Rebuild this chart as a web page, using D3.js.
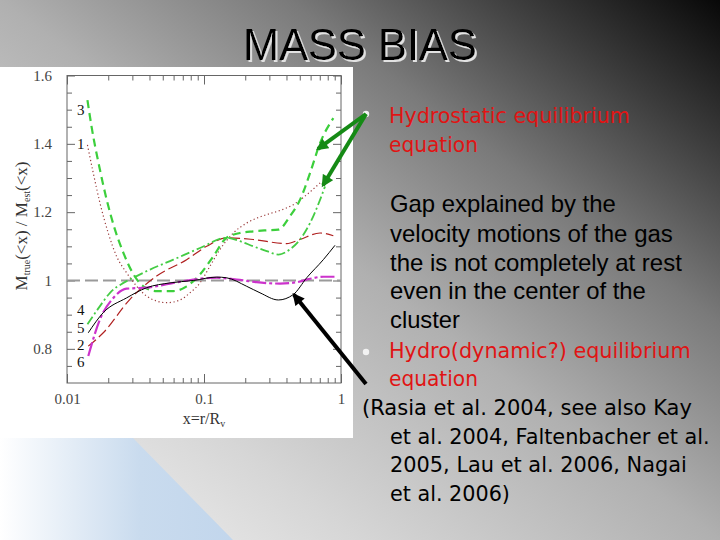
<!DOCTYPE html>
<html><head><meta charset="utf-8">
<script src="https://cdn.jsdelivr.net/npm/d3@7"></script>
<style>html,body{margin:0;padding:0;overflow:hidden;background:#999}</style>
</head><body><svg id="c" width="720" height="540"></svg>
<script>
// ---------- data ----------
const curveIds = ["1", "2", "3", "4", "5", "6"];
// curve 1 : brown dotted
const x1 = [0.0141,0.01556,0.0174,0.0200,0.0230,0.0273,0.0323,0.0382,0.0451,0.0534,0.0668,0.0790,0.0935,0.1106,0.1309,0.1637,0.2048,0.287,0.3586,0.4487,0.5616,0.7225];
const y1 = [1.397,1.314,1.227,1.139,1.071,1.022,0.983,0.954,0.940,0.935,0.943,0.964,0.993,1.042,1.091,1.139,1.168,1.193,1.205,1.222,1.251,1.290];
// curve 2 : dark red long dash
const x2 = [0.0143,0.0184,0.0288,0.0451,0.0747,0.1046,0.146,0.229,0.4013,0.502,0.703,0.879];
const y2 = [0.808,0.847,0.945,1.013,1.061,1.100,1.125,1.120,1.108,1.120,1.139,1.131];
// curve 3 : green dashed
const x3 = [0.0141,0.0151,0.0174,0.0195,0.0224,0.0258,0.0297,0.0361,0.0451,0.0597,0.0747,0.0935,0.117,0.146,0.183,0.229,0.287,0.349,0.424,0.502,0.594,0.703,0.879];
const y3 = [1.528,1.451,1.324,1.236,1.149,1.081,1.027,0.983,0.969,0.969,0.983,1.018,1.071,1.125,1.139,1.144,1.147,1.149,1.188,1.236,1.314,1.402,1.475];
// curve 4 : green dash-dot
const x4 = [0.0141,0.0174,0.0206,0.0258,0.0305,0.0404,0.0597,0.0935,0.146,0.183,0.229,0.287,0.349,0.424,0.502,0.594,0.703,0.764];
const y4 = [0.872,0.925,0.964,0.993,1.008,1.032,1.061,1.095,1.125,1.115,1.100,1.086,1.076,1.091,1.120,1.168,1.236,1.275];
// curve 5 : black solid
const x5 = [0.0143,0.0184,0.0272,0.0382,0.0565,0.0836,0.124,0.146,0.205,0.2563,0.349,0.449,0.562,0.743,0.904];
const y5 = [0.847,0.906,0.949,0.979,0.993,1.000,1.010,1.008,0.983,0.964,0.943,0.959,1.008,1.061,1.103];
// curve 6 : magenta long dash-dot
const x6 = [0.0143,0.0174,0.0218,0.0272,0.0382,0.0565,0.0836,0.124,0.1732,0.2424,0.3586,0.475,0.594,0.743,0.904];
const y6 = [0.779,0.886,0.949,0.976,0.979,0.991,1.003,1.008,1.003,0.995,0.991,0.995,1.005,1.011,1.011];
// curve number labels (left side): data y positions
const labelY = [1.40, 0.811, 1.499, 0.914, 0.861, 0.762];
const labelX = 0.0126;
const refValue = 1.0;
const xMajor = [0.01, 0.1, 1];
const xMajorLabels = ["0.01", "0.1", "1"];
const yMajor = [0.8, 1.0, 1.2, 1.4, 1.6];
const yMajorLabels = ["0.8", "1", "1.2", "1.4", "1.6"];
const title = "MASS BIAS";

// ---------- drawing ----------
const svg = d3.select("#c");
const defs = svg.append("defs");
const bg = defs.append("linearGradient").attr("id","bg").attr("x1",0).attr("y1",1).attr("x2",1).attr("y2",0);
[[0,"#f6f6f6"],[0.25,"#d6d6d6"],[0.5,"#b0b0b0"],[0.7,"#7a7a7a"],[0.86,"#3c3c3c"],[1,"#080808"]]
  .forEach(([o,c])=>bg.append("stop").attr("offset",o).attr("stop-color",c));
const blue = defs.append("linearGradient").attr("id","blue").attr("x1",0).attr("y1",0).attr("x2",1).attr("y2",0);
blue.append("stop").attr("offset",0).attr("stop-color","#ffffff");
blue.append("stop").attr("offset",0.6).attr("stop-color","#c9dbee");
blue.append("stop").attr("offset",1).attr("stop-color","#c2d6ec");
defs.append("filter").attr("id","sh").attr("x","-5%").attr("y","-10%").attr("width","110%").attr("height","130%")
  .append("feDropShadow").attr("dx",2).attr("dy",2).attr("stdDeviation",0.4)
  .attr("flood-color","#e2e2e2").attr("flood-opacity",1);

function marker(id, color){
  defs.append("marker").attr("id",id).attr("viewBox","0 0 10 10").attr("refX",8).attr("refY",5)
    .attr("markerWidth",13).attr("markerHeight",12).attr("markerUnits","userSpaceOnUse").attr("orient","auto")
    .append("path").attr("d","M0,0 L10,5 L0,10 Z").attr("fill",color);
}
marker("mg","#158a15"); marker("mk","#000");

svg.append("rect").attr("width",720).attr("height",540).attr("fill","url(#bg)");
svg.append("path").attr("d","M0,438 L133,438 L233,540 L0,540 Z").attr("fill","url(#blue)");

// helper: text scaled horizontally to a target width
function fitText(parent, str, tx, ty, width, size, family, fill, anchor){
  const gg = parent.append("g");
  const t = gg.append("text").attr("x",0).attr("y",0).attr("font-family",family)
    .attr("font-size",size).attr("fill",fill).text(str);
  const nat = t.node().getComputedTextLength();
  const sx = width / nat;
  const x0 = anchor === "middle" ? tx - width/2 : tx;
  gg.attr("transform",`translate(${x0},${ty}) scale(${sx},1)`);
  return t;
}

// title (shadow via filter)
fitText(svg, title, 360, 60, 234, 45, "Liberation Sans, Arial, sans-serif", "#000", "middle").attr("filter","url(#sh)");

// chart panel
svg.append("rect").attr("x",0).attr("y",67).attr("width",353).attr("height",371).attr("fill","#fff");

const L=67, R=341, T=75.5, B=383;
const x = d3.scaleLog().domain([0.01,1]).range([L,R]);
const y = d3.scaleLinear().domain([0.7,1.6]).range([B,T]);

const xMinor = [];
[0.01,0.1].forEach(d=>{for(let k=2;k<=9;k++) xMinor.push(d*k);});
const yMinor = d3.range(0.75,1.6,0.05).map(v=>+v.toFixed(2)).filter(v=>!yMajor.some(m=>Math.abs(m-v)<1e-6));

const g = svg.append("g");
const axColor = "#666";
function addAxis(axis, tr, vals, size, fmt, pad){
  const a = g.append("g").attr("transform",tr).attr("color",axColor)
    .call(axis.tickValues(vals).tickSize(size).tickPadding(pad||3).tickFormat(fmt||""));
  a.select(".domain").remove();
  a.selectAll("line").attr("stroke-width",1);
  return a;
}
// bottom
const bx = addAxis(d3.axisBottom(x), `translate(0,${B})`, xMajor, -9, (d,i)=>xMajorLabels[i], 10);
bx.selectAll("text").attr("font-family","Liberation Serif, serif").attr("font-size",15).attr("fill","#444");
addAxis(d3.axisBottom(x), `translate(0,${B})`, xMinor, -5);
// top
addAxis(d3.axisTop(x), `translate(0,${T})`, xMajor, -9);
addAxis(d3.axisTop(x), `translate(0,${T})`, xMinor, -5);
// left
const ly = addAxis(d3.axisLeft(y), `translate(${L},0)`, yMajor, -8, (d,i)=>yMajorLabels[i], 15);
ly.selectAll("text").attr("font-family","Liberation Serif, serif").attr("font-size",15).attr("fill","#444");
addAxis(d3.axisLeft(y), `translate(${L},0)`, yMinor, -5);
// right
addAxis(d3.axisRight(y), `translate(${R},0)`, yMajor, -8);
addAxis(d3.axisRight(y), `translate(${R},0)`, yMinor, -5);

g.append("rect").attr("x",L).attr("y",T).attr("width",R-L).attr("height",B-T)
  .attr("fill","none").attr("stroke","#666").attr("stroke-width",1);

// reference line
g.append("line").attr("x1",x(0.01)).attr("x2",x(1)).attr("y1",y(refValue)).attr("y2",y(refValue))
  .attr("stroke","#9a9a9a").attr("stroke-width",2).attr("stroke-dasharray","13,5");

const styles = {
  "1": {stroke:"#9a3a3a", w:1.2, dash:"1.2,2.6"},
  "2": {stroke:"#b02020", w:1.2, dash:"10,4"},
  "3": {stroke:"#3ccf3c", w:2.2, dash:"8,5"},
  "4": {stroke:"#44cc44", w:1.8, dash:"9,3,2,3"},
  "5": {stroke:"#000000", w:1, dash:null},
  "6": {stroke:"#cc33cc", w:2.2, dash:"14,3,3,3"}
};
const xsAll = [x1,x2,x3,x4,x5,x6], ysAll = [y1,y2,y3,y4,y5,y6];
const line = d3.line().x(d=>x(d[0])).y(d=>y(d[1])).curve(d3.curveMonotoneX);
const drawOrder = [1,0,3,2,5,4];
drawOrder.forEach(i=>{
  const id = curveIds[i], st = styles[id];
  const pts = xsAll[i].map((v,j)=>[v, ysAll[i][j]]);
  g.append("path").attr("d",line(pts)).attr("fill","none").attr("stroke",st.stroke)
    .attr("stroke-width",st.w).attr("stroke-dasharray",st.dash);
});
// curve labels
curveIds.forEach((id,i)=>{
  g.append("text").attr("x",x(labelX)).attr("y",y(labelY[i])).attr("dy","0.35em").attr("text-anchor","middle")
    .attr("font-family","Liberation Serif, serif").attr("font-size",15).attr("fill","#111").text(id);
});
// axis titles
const yl = g.append("text").attr("transform",`translate(27,${226}) rotate(-90)`).attr("text-anchor","middle")
  .attr("font-family","Liberation Serif, serif").attr("font-size",17).attr("fill","#333");
yl.append("tspan").text("M");
yl.append("tspan").attr("font-size",10).attr("dy",3).text("true");
yl.append("tspan").attr("dy",-3).text("(<x)  /  M");
yl.append("tspan").attr("font-size",10).attr("dy",3).text("est");
yl.append("tspan").attr("dy",-3).text("(<x)");
const xl = g.append("text").attr("x",(L+R)/2).attr("y",424).attr("text-anchor","middle")
  .attr("font-family","Liberation Serif, serif").attr("font-size",16).attr("fill","#333");
xl.append("tspan").text("x=r/R");
xl.append("tspan").attr("font-size",10).attr("dy",3).text("v");

// ---------- slide text ----------
const tah = "DejaVu Sans, Verdana, sans-serif", ari = "Liberation Sans, Arial, sans-serif";
const red = "#e01414";
const lines = [
  ["Hydrostatic equilibrium", 389, 123, 241, red, tah],
  ["equation", 389, 152, 89, red, tah],
  ["Gap explained by the", 390, 212, 226, "#000", ari],
  ["velocity motions of the gas", 390, 241.5, 283, "#000", ari],
  ["the is not completely at rest", 390, 270.5, 292, "#000", ari],
  ["even in the center of the", 390, 299, 256, "#000", ari],
  ["cluster", 390, 327.5, 70, "#000", ari],
  ["Hydro(dynamic?) equilibrium", 389, 358, 302, red, tah],
  ["equation", 389, 386, 89, red, tah],
  ["(Rasia et al. 2004, see also Kay", 362, 415, 330, "#000", tah],
  ["et al. 2004, Faltenbacher et al.", 390, 443.5, 320, "#000", tah],
  ["2005, Lau et al. 2006, Nagai", 390, 472, 297, "#000", tah],
  ["et al. 2006)", 390, 500.5, 120, "#000", tah]
];
lines.forEach(([t,lx,ly0,w,c,f])=>{
  fitText(svg, t, lx, ly0, w, f===tah?22:23, f, c, "start");
});
svg.append("circle").attr("cx",366).attr("cy",352).attr("r",3.2).attr("fill","#f2f2f2");
svg.append("circle").attr("cx",366).attr("cy",114).attr("r",3.2).attr("fill","#f2f2f2");

// arrows (tails on slide, tips at data positions)
const greenTips = [[0.679,1.385],[0.739,1.279]];
const blackTip = [0.454,0.958];
greenTips.forEach(([tx,ty])=>{
  svg.append("line").attr("x1",366).attr("y1",114).attr("x2",x(tx)).attr("y2",y(ty))
    .attr("stroke","#158a15").attr("stroke-width",4).attr("marker-end","url(#mg)");
});
svg.append("line").attr("x1",366).attr("y1",384).attr("x2",x(blackTip[0])).attr("y2",y(blackTip[1]))
  .attr("stroke","#000").attr("stroke-width",4).attr("marker-end","url(#mk)");
</script></body></html>
